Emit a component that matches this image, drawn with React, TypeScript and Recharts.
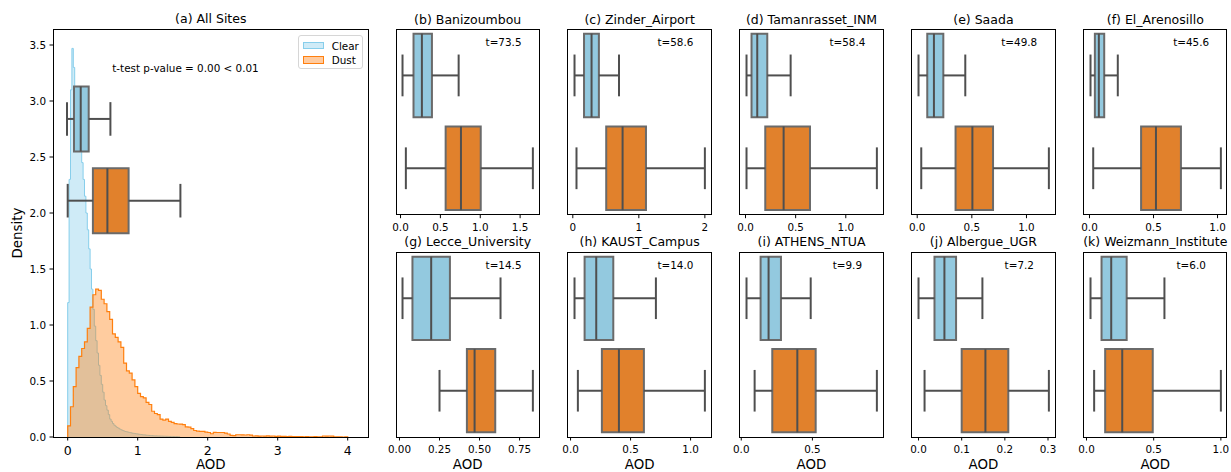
import React from 'react'
import { ComposedChart, Area, XAxis, YAxis, ReferenceArea, ReferenceLine, Scatter } from 'recharts'

const FONT = '"DejaVu Sans", Verdana, sans-serif'
const SKY = '#87ceeb'
const ORANGE = '#ff7f0e'
const BOX_CLEAR = '#93c9df'
const BOX_DUST = '#e1812c'
const LINE = '#4f4f4f'
const BOX_EDGE = '#6a6a6a'

// (a) histogram densities, one value per bin starting at 0
const clearBinWidth = 0.02
const clearDensity = [
  1.2, 2.3, 3.1, 3.47, 3.3, 3.12, 3.0, 2.87, 2.73, 2.6,
  2.45, 2.3, 2.15, 2.0, 1.85, 1.68, 1.5, 1.32, 1.14, 0.99,
  0.86, 0.75, 0.64, 0.55, 0.47, 0.4, 0.33, 0.28, 0.24, 0.2,
  0.16, 0.14, 0.12, 0.105, 0.095, 0.085, 0.078, 0.07, 0.064, 0.058,
  0.053, 0.049, 0.046, 0.043, 0.04, 0.037, 0.034, 0.032, 0.03, 0.028,
  0.026, 0.024, 0.022, 0.02, 0.019, 0.018, 0.016, 0.015, 0.014, 0.013,
  0.012, 0.011, 0.01, 0.01, 0.009, 0.009, 0.008, 0.008, 0.007, 0.007,
  0.006, 0.006, 0.005, 0.005, 0.005, 0.004, 0.004, 0.004, 0.003, 0.003,
]
const dustBinWidth = 0.04
const dustDensity = [
  0.1, 0.27, 0.45, 0.62, 0.72, 0.79, 0.85, 0.97, 1.16, 1.27,
  1.32, 1.31, 1.23, 1.19, 1.12, 1.05, 0.92, 0.89, 0.85, 0.8,
  0.66, 0.59, 0.57, 0.51, 0.45, 0.39, 0.36, 0.35, 0.31, 0.29,
  0.23, 0.21, 0.2, 0.16, 0.15, 0.16, 0.14, 0.13, 0.12, 0.116,
  0.115, 0.11, 0.09, 0.088, 0.075, 0.058, 0.052, 0.05, 0.05, 0.043,
  0.04, 0.029, 0.041, 0.04, 0.04, 0.04, 0.035, 0.027, 0.014, 0.012,
  0.02, 0.02, 0.019, 0.018, 0.02, 0.016, 0.009, 0.01, 0.008, 0.009,
  0.008, 0.01, 0.007, 0.009, 0.006, 0.008, 0.005, 0.006, 0.004, 0.005,
  0.003, 0.004, 0.003, 0.003, 0.002, 0.003, 0.002, 0.002, 0.003, 0.001,
  0.002, 0.009, 0.008, 0.009, 0.007, 0.001, 0.002, 0.001, 0, 0.002,
]

// (a) boxplots: [low whisker, q1, median, q3, high whisker]
const allClearStats = [-0.01, 0.09, 0.186, 0.3, 0.61]
const allDustStats = [0.0, 0.36, 0.567, 0.87, 1.61]
const allBoxCenters = [2.84, 2.11]
const allTicksX = [0, 1, 2, 3, 4]
const allTicksY = [0, 0.5, 1, 1.5, 2, 2.5, 3, 3.5]

// sites
const siteLetters = ['b', 'c', 'd', 'e', 'f', 'g', 'h', 'i', 'j', 'k']
const siteNames = [
  'Banizoumbou', 'Zinder_Airport', 'Tamanrasset_INM', 'Saada', 'El_Arenosillo',
  'Lecce_University', 'KAUST_Campus', 'ATHENS_NTUA', 'Albergue_UGR', 'Weizmann_Institute',
]
const siteT = [73.5, 58.6, 58.4, 49.8, 45.6, 14.5, 14.0, 9.9, 7.2, 6.0]
const clearStats = [
  [0.025, 0.163, 0.268, 0.394, 0.729],
  [0.026, 0.17, 0.284, 0.395, 0.7],
  [0.01, 0.06, 0.117, 0.217, 0.45],
  [0.012, 0.092, 0.153, 0.239, 0.44],
  [0.008, 0.042, 0.073, 0.115, 0.221],
  [0.019, 0.081, 0.198, 0.315, 0.631],
  [0.033, 0.117, 0.214, 0.356, 0.711],
  [0.037, 0.136, 0.192, 0.279, 0.488],
  [0.0, 0.037, 0.06, 0.087, 0.148],
  [0.03, 0.112, 0.184, 0.299, 0.58],
]
const dustStats = [
  [0.067, 0.566, 0.758, 1.006, 1.66],
  [0.056, 0.506, 0.754, 1.108, 2.0],
  [0.01, 0.197, 0.38, 0.643, 1.31],
  [0.037, 0.351, 0.505, 0.694, 1.205],
  [0.029, 0.403, 0.519, 0.714, 1.026],
  [0.25, 0.421, 0.469, 0.598, 0.833],
  [0.061, 0.261, 0.403, 0.611, 1.119],
  [0.094, 0.218, 0.394, 0.523, 0.953],
  [0.014, 0.1, 0.155, 0.208, 0.302],
  [0.057, 0.139, 0.266, 0.493, 1.0],
]
const siteTicks = [
  [0, 0.5, 1, 1.5],
  [0, 1, 2],
  [0, 0.5, 1],
  [0, 0.5, 1],
  [0, 0.5, 1],
  [0, 0.25, 0.5, 0.75],
  [0, 0.5, 1],
  [0, 0.5],
  [0, 0.1, 0.2, 0.3],
  [0, 0.5, 1],
]
const siteTickDigits = [1, 0, 1, 1, 1, 2, 1, 1, 1, 1]

// build the step table for both histograms on a shared x grid
const rnd = (v: number) => Math.round(v * 1e4) / 1e4
const clearEnd = rnd(clearDensity.length * clearBinWidth)
const dustEnd = rnd(dustDensity.length * dustBinWidth)
const edges = Array.from(
  new Set([
    ...clearDensity.map((_, i) => rnd(i * clearBinWidth)),
    clearEnd,
    ...dustDensity.map((_, i) => rnd(i * dustBinWidth)),
    dustEnd,
  ])
).sort((a, b) => a - b)
const histData = [
  { x: 0, clear: 0, dust: 0 },
  ...edges.map((x) => ({
    x,
    clear: x < clearEnd ? clearDensity[Math.floor(x / clearBinWidth + 1e-6)] : x === clearEnd ? 0 : null,
    dust: x < dustEnd ? dustDensity[Math.floor(x / dustBinWidth + 1e-6)] : 0,
  })),
]

const PAD = 30

function Txt({ x, y, size, children, rotate }: { x: number; y: number; size: number; children: React.ReactNode; rotate?: number }) {
  return (
    <div
      style={{
        position: 'absolute',
        left: x,
        top: y,
        transform: `translate(-50%, -50%)${rotate ? ` rotate(${rotate}deg)` : ''}`,
        fontFamily: FONT,
        fontSize: size,
        lineHeight: 1,
        whiteSpace: 'nowrap',
        color: '#000',
      }}
    >
      {children}
    </div>
  )
}

function Frame({ x, y, w, h }: { x: number; y: number; w: number; h: number }) {
  return (
    <div
      style={{
        position: 'absolute',
        left: x - 0.5,
        top: y - 0.5,
        width: w + 1,
        height: h + 1,
        border: '1px solid #000',
        boxSizing: 'border-box',
        pointerEvents: 'none',
      }}
    />
  )
}

function boxElements(s: number[], pos: number, half: number, capHalf: number, fill: string, key: string) {
  const [lo, q1, med, q3, hi] = s
  const lp = { stroke: LINE, strokeWidth: 2, ifOverflow: 'visible' as const, zIndex: 1600 }
  return [
    <ReferenceLine key={key + 'w1'} segment={[{ x: lo, y: pos }, { x: q1, y: pos }]} {...lp} />,
    <ReferenceLine key={key + 'w2'} segment={[{ x: q3, y: pos }, { x: hi, y: pos }]} {...lp} />,
    <ReferenceLine key={key + 'c1'} segment={[{ x: lo, y: pos - capHalf }, { x: lo, y: pos + capHalf }]} {...lp} />,
    <ReferenceLine key={key + 'c2'} segment={[{ x: hi, y: pos - capHalf }, { x: hi, y: pos + capHalf }]} {...lp} />,
    <ReferenceArea
      key={key + 'b'}
      x1={q1}
      x2={q3}
      y1={pos - half}
      y2={pos + half}
      fill={fill}
      fillOpacity={1}
      stroke={BOX_EDGE}
      strokeWidth={2}
      ifOverflow="visible"
      zIndex={1500}
    />,
    <ReferenceLine key={key + 'm'} segment={[{ x: med, y: pos - half }, { x: med, y: pos + half }]} {...lp} />,
  ]
}

function AllSitesPanel() {
  const x = 53.3
  const y = 29.3
  const w = 315
  const h = 408
  return (
    <>
      <div style={{ position: 'absolute', left: x - PAD, top: y - PAD }}>
        <ComposedChart width={w + 2 * PAD} height={h + 2 * PAD} data={histData} margin={{ top: PAD, right: PAD, left: 0, bottom: 0 }}>
          <XAxis
            type="number"
            dataKey="x"
            domain={[-0.21, 4.29]}
            allowDataOverflow
            ticks={allTicksX}
            interval={0}
            height={PAD}
            axisLine={false}
            tickSize={3.5}
            tickMargin={5.5}
            tickLine={{ stroke: '#000' }}
            tick={{ fontSize: 12.5, fill: '#000', fontFamily: FONT }}
          />
          <YAxis
            type="number"
            domain={[0, 3.643]}
            allowDataOverflow
            ticks={allTicksY}
            interval={0}
            width={PAD}
            axisLine={false}
            tickSize={3.5}
            tickMargin={3.5}
            tickLine={{ stroke: '#000' }}
            tickFormatter={(v: number) => v.toFixed(1)}
            tick={{ fontSize: 10.4, fill: '#000', fontFamily: FONT }}
          />
          <Area
            type="stepAfter"
            dataKey="clear"
            stroke={SKY}
            strokeWidth={1}
            fill={SKY}
            fillOpacity={0.4}
            isAnimationActive={false}
            dot={false}
            activeDot={false}
          />
          <Area
            type="stepAfter"
            dataKey="dust"
            stroke={ORANGE}
            strokeWidth={1.2}
            fill={ORANGE}
            fillOpacity={0.4}
            isAnimationActive={false}
            dot={false}
            activeDot={false}
          />
          {boxElements(allClearStats, allBoxCenters[0], 0.29, 0.15, BOX_CLEAR, 'ac')}
          {boxElements(allDustStats, allBoxCenters[1], 0.29, 0.15, BOX_DUST, 'ad')}
        </ComposedChart>
      </div>
      <Frame x={x} y={y} w={w} h={h} />
      <Txt x={x + w / 2} y={19} size={12.5}>(a) All Sites</Txt>
      <Txt x={18.3} y={y + h / 2} size={13.4} rotate={-90}>Density</Txt>
      <Txt x={x + w / 2} y={465} size={13.4}>AOD</Txt>
      <Txt x={185.5} y={67.5} size={10.4}>t-test p-value = 0.00 &lt; 0.01</Txt>
      <div
        style={{
          position: 'absolute',
          left: 297.7,
          top: 35,
          width: 65,
          height: 34,
          boxSizing: 'border-box',
          border: '1px solid #d6d6d6',
          borderRadius: 3,
          background: '#fff',
          fontFamily: FONT,
          fontSize: 10.4,
        }}
      >
        {[
          { name: 'Clear', color: SKY, top: 4.5 },
          { name: 'Dust', color: ORANGE, top: 18.8 },
        ].map((it) => (
          <div key={it.name} style={{ position: 'absolute', left: 4, top: it.top, display: 'flex', alignItems: 'center' }}>
            <div
              style={{
                width: 21,
                height: 7.5,
                boxSizing: 'border-box',
                border: `1px solid ${it.color}`,
                background: it.name === 'Clear' ? '#cfebf7' : '#ffcb9f',
              }}
            />
            <span style={{ marginLeft: 8, lineHeight: 1 }}>{it.name}</span>
          </div>
        ))}
      </div>
    </>
  )
}

function SitePanel({ i }: { i: number }) {
  const col = i % 5
  const row = Math.floor(i / 5)
  const x = 396 + col * 171.9
  const y = row === 0 ? 29.3 : 252.3
  const w = 143.4
  const h = row === 0 ? 185.7 : 185
  const lo = Math.min(clearStats[i][0], dustStats[i][0])
  const hi = Math.max(clearStats[i][4], dustStats[i][4])
  const r = hi - lo
  const domain = [lo - 0.05 * r, hi + 0.05 * r]
  const medians = [
    { x: clearStats[i][2], y: 0 },
    { x: dustStats[i][2], y: 1 },
  ]
  return (
    <>
      <div style={{ position: 'absolute', left: x - PAD, top: y - PAD }}>
        <ComposedChart width={w + 2 * PAD} height={h + 2 * PAD} margin={{ top: PAD, right: PAD, left: PAD, bottom: 0 }}>
          <XAxis
            type="number"
            dataKey="x"
            domain={domain}
            allowDataOverflow
            ticks={siteTicks[i]}
            interval={0}
            height={PAD}
            axisLine={false}
            tickSize={3.5}
            tickMargin={5.5}
            tickLine={{ stroke: '#000' }}
            tickFormatter={(v: number) => v.toFixed(siteTickDigits[i])}
            tick={{ fontSize: 10.4, fill: '#000', fontFamily: FONT }}
          />
          <YAxis type="number" dataKey="y" domain={[-0.5, 1.5]} allowDataOverflow reversed hide />
          <Scatter data={medians} dataKey="y" isAnimationActive={false} shape={() => <g />} />
          {boxElements(clearStats[i], 0, 0.45, 0.225, BOX_CLEAR, 'c' + i)}
          {boxElements(dustStats[i], 1, 0.45, 0.225, BOX_DUST, 'd' + i)}
        </ComposedChart>
      </div>
      <Frame x={x} y={y} w={w} h={h} />
      <Txt x={x + w / 2} y={row === 0 ? 19.5 : 242} size={12.5}>
        ({siteLetters[i]}) {siteNames[i]}
      </Txt>
      <Txt x={x + 0.75 * w} y={y + 13} size={10.4}>
        t={siteT[i].toFixed(1)}
      </Txt>
      {row === 1 && (
        <Txt x={x + w / 2} y={464.5} size={13.4}>
          AOD
        </Txt>
      )}
    </>
  )
}

export default function App() {
  return (
    <div style={{ position: 'absolute', left: 0, top: 0, width: 1231, height: 472, background: '#fff', overflow: 'hidden' }}>
      <AllSitesPanel />
      {siteNames.map((_, i) => (
        <SitePanel key={i} i={i} />
      ))}
    </div>
  )
}
